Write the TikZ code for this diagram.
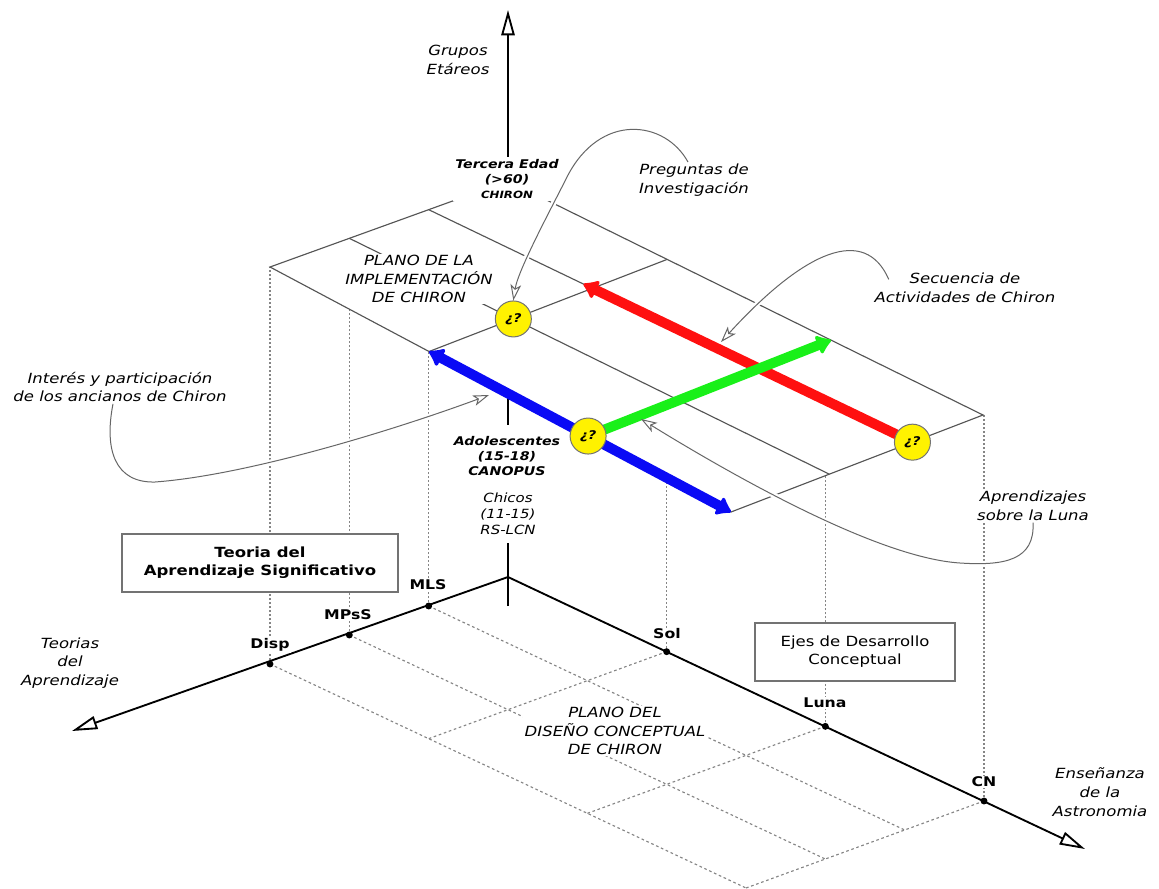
\documentclass[tikz,border=0pt]{standalone}
\usepackage{fontspec}
\setmainfont{DejaVu Sans}[FakeStretch=1.18]
\usetikzlibrary{arrows.meta, calc}
\definecolor{crojo}{HTML}{FF1010}
\definecolor{cazul}{HTML}{0A0AF5}
\definecolor{cverde}{HTML}{19F019}
\definecolor{camarillo}{HTML}{FFF200}
\definecolor{clinea}{HTML}{555555}
\definecolor{cpunto}{HTML}{858585}
\tikzset{
  every picture/.style={x=0.75pt, y=-0.75pt, line width=0.75pt},
  eje/.style={draw=black, line width=1.4pt, -{Triangle[length=19pt, width=10pt, fill=white]}},
  plano/.style={draw=clinea, line width=0.85pt},
  rejilla/.style={draw=cpunto, line width=0.85pt, dash pattern=on 2pt off 2pt},
  vertical/.style={draw=cpunto, line width=0.85pt, dash pattern=on 1.5pt off 1.5pt},
  flecha/.style={draw=#1, line width=7.5pt, line cap=round},
  punta/.tip={Latex[round, length=12pt, width=18pt]},
  pregunta/.style={circle, draw=black!55, fill=camarillo, minimum size=27pt, inner sep=0pt, font=\fontsize{9}{9}\selectfont\bfseries\itshape},
  etiq/.style={align=center, inner sep=1pt, font=\fontsize{10.5}{14}\selectfont\itshape},
  grupo/.style={align=center, fill=white, inner sep=4pt, font=\fontsize{9}{11.5}\selectfont\bfseries\itshape},
  marca/.style={fill=white, inner sep=1pt, font=\fontsize{10}{12}\selectfont\bfseries},
  caja/.style={draw=black!55, line width=1.5pt, fill=white, align=center, font=\fontsize{10.5}{13.5}\selectfont#1},
  caja/.default=\bfseries,
  aviso/.style={draw=black!60, line width=0.75pt, -{Stealth[open, length=12pt, width=8pt, inset=3pt]},
    preaction={draw=white, line width=4pt, arrows=-, shorten >=12pt}},
}
\begin{document}
\begin{tikzpicture}
  \useasboundingbox (0,0) rectangle (1159,888);

  % ejes del plano inferior
  \coordinate (o) at (508,577);
  \coordinate (disp) at (270,664);
  \coordinate (cn) at (984,801);
  \coordinate (mls) at ($(o)!0.3333!(disp)$);
  \coordinate (mpss) at ($(o)!0.6667!(disp)$);
  \coordinate (sol) at ($(o)!0.3333!(cn)$);
  \coordinate (luna) at ($(o)!0.6667!(cn)$);
  \coordinate (puntaX) at (72,731);
  \coordinate (puntaY) at (1085,849);
  \coordinate (puntaZ) at (508,10);
  \coordinate (base) at (508,606);

  % plano superior
  \coordinate (B) at (508,181);
  \coordinate (L) at (270,267);
  \coordinate (R) at (983,415);
  \coordinate (F) at (731,512);
  \coordinate (P1) at ($(B)!0.3333!(L)$);
  \coordinate (P2) at ($(B)!0.6667!(L)$);
  \coordinate (Q1) at ($(R)!0.28!(F)$);
  \coordinate (Q2) at ($(R)!0.61!(F)$);
  \coordinate (S1) at ($(L)!0.345!(F)$);
  \coordinate (S2) at ($(L)!0.69!(F)$);
  \coordinate (T1) at ($(B)!0.335!(R)$);
  \coordinate (T2) at ($(B)!0.68!(R)$);

  % plano del diseno (punteado)
  \foreach \p in {mls,mpss,disp}
    \draw[rejilla] (\p) -- ($(\p)+(cn)-(o)$);
  \foreach \p in {sol,luna,cn}
    \draw[rejilla] (\p) -- ($(\p)+(disp)-(o)$);
  \foreach \p in {mls,mpss,disp}
    \draw[vertical] (\p) -- (\p |- L);
  \foreach \p in {sol,luna,cn}
    \draw[vertical] (\p) -- (\p |- R);

  \draw[eje] (o) -- (puntaX);
  \draw[eje] (o) -- (puntaY);
  \draw[eje] (base) -- (puntaZ);
  \foreach \p in {mls,mpss,disp,sol,luna,cn}
    \fill (\p) circle[radius=2.6pt];

  \node[grupo, inner ysep=8pt] (adol) at (507,456) {Adolescentes\\(15-18)\\CANOPUS};
  \node[grupo, inner ysep=6pt, font=\fontsize{9.5}{12}\selectfont\itshape] (chicos) at (508,514) {Chicos\\(11-15)\\RS-LCN};

  % plano de la implementacion
  \filldraw[plano, fill=white] (B) -- (L) -- (F) -- (R) -- cycle;
  \draw[plano] (P1) -- (Q1);
  \draw[plano] (P2) -- (Q2);
  \draw[plano] (S1) -- (T1);
  \draw[plano] (S2) -- (T2);

  \draw[flecha=cazul, {punta}-{punta}] (S1) -- (F);
  \draw[flecha=crojo, -{punta}] (Q1) -- ($(P1)!0.32!(Q1)$);
  \draw[flecha=cverde, -{punta}] (S2) -- (T2);

  \node[pregunta] (c1) at (intersection of P2--Q2 and S1--T1) {¿?};
  \node[pregunta] (c2) at (S2) {¿?};
  \node[pregunta] (c3) at (Q1) {¿?};

  % textos
  \node[etiq] (grupos) at (458,60) {Grupos\\Etáreos};
  \node[grupo, inner sep=1.5pt] (tercera) at (507,179) {Tercera Edad\\(>60)\\{\fontsize{7.5}{9}\selectfont CHIRON}};
  \node[etiq, fill=white] (planosup) at (419,279) {PLANO DE LA\\IMPLEMENTACIÓN\\DE CHIRON};
  \node[etiq] (preg) at (694,180) {Preguntas de\\Investigación};
  \node[etiq] (secu) at (965,288) {Secuencia de\\Actividades de Chiron};
  \node[etiq] (inter) at (120,387) {Interés y participación\\de los ancianos de Chiron};
  \node[etiq, fill=white] (aprend) at (1033,506) {Aprendizajes\\sobre la Luna};
  \node[etiq] (teorias) at (70,663) {Teorias\\del\\Aprendizaje};
  \node[etiq] (ensenanza) at (1100,792) {Enseñanza\\de la\\Astronomia};
  \node[etiq, fill=white] (planoinf) at (615,731) {PLANO DEL\\DISEÑO CONCEPTUAL\\DE CHIRON};

  \node[caja, minimum width=207pt, minimum height=43.5pt] (teoria) at (260,563) {Teoria del\\Aprendizaje Significativo};
  \node[caja=\mdseries, minimum width=150pt, minimum height=44pt] (ejes) at (855,652) {Ejes de Desarrollo\\Conceptual};

  \node[marca] (lmls) at (428,585) {MLS};
  \node[marca] (lmpss) at (348,615) {MPsS};
  \node[marca] (ldisp) at (270,645) {Disp};
  \node[marca] (lsol) at (667,634) {Sol};
  \node[marca] (lluna) at (825,703) {Luna};
  \node[marca] (lcn) at (984,782) {CN};

  % llamadas
  \coordinate (tsecu) at (721,342);
  \coordinate (tinter) at (489,395);
  \coordinate (taprend) at (641,419);
  \draw[aviso] ($(preg.north)+(-6,0)$) .. controls (665,120) and (600,112) .. (567,177)
    .. controls (552,207) and (518,270) .. (c1.north);
  \draw[aviso] ($(secu.north west)+(16,8)$) .. controls (865,225) and (805,250) .. (tsecu);
  \draw[aviso] ($(inter.south)+(-7,0)$) .. controls (104,450) and (115,483) .. (155,482)
    .. controls (250,475) and (400,428) .. (tinter);
  \draw[aviso] (aprend.south) .. controls (1035,560) and (1005,566) .. (960,563)
    .. controls (880,558) and (740,480) .. (taprend);
\end{tikzpicture}
\end{document}
